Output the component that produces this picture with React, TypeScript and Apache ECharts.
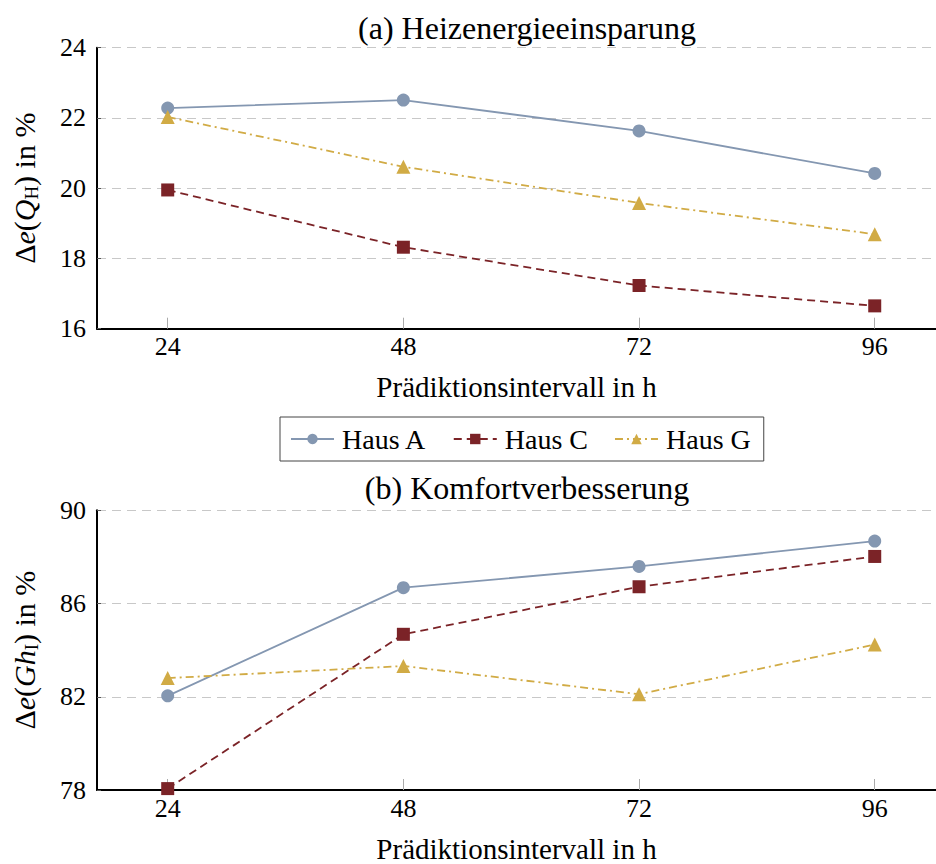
import React, { useEffect, useRef } from "react";
import * as echarts from "echarts";

const hours = [24, 48, 72, 96];
const seriesNames = ["Haus A", "Haus C", "Haus G"];
const heatA = [22.28, 22.51, 21.63, 20.42];
const heatC = [19.95, 18.32, 17.23, 16.65];
const heatG = [22.03, 20.61, 19.58, 18.69];
const comfA = [82.04, 86.68, 87.59, 88.68];
const comfC = [78.06, 84.68, 86.72, 88.02];
const comfG = [82.8, 83.32, 82.11, 84.24];
const heatTicks = [16, 18, 20, 22, 24];
const comfTicks = [78, 82, 86, 90];

const colors = ["#8497b1", "#7b2327", "#d1ab45"];
const symbols = ["circle", "rect", "triangle"];
const dashes: any[] = ["solid", [8, 5], [8, 4, 2, 4]];
const FONT = "serif";

export default function App() {
  const ref = useRef<HTMLDivElement>(null);
  useEffect(() => {
    if (!ref.current) return;
    const chart = echarts.init(ref.current, null, { renderer: "svg" });
    const pair = (ys: number[]) => hours.map((h, i) => [h, ys[i]]);
    const groups = [
      [heatA, heatC, heatG],
      [comfA, comfC, comfG],
    ];
    const series: any[] = [];
    groups.forEach((g, gi) => {
      g.forEach((ys, si) => {
        series.push({
          type: "line",
          name: seriesNames[si],
          xAxisIndex: gi,
          yAxisIndex: gi,
          data: pair(ys),
          symbol: symbols[si],
          symbolSize: si === 2 ? 14 : 13,
          showSymbol: true,
          lineStyle: { color: colors[si], width: 1.8, type: dashes[si] },
          itemStyle: { color: colors[si] },
          z: 3,
        });
      });
    });
    const xAxisBase = (gi: number) => ({
      type: "value",
      gridIndex: gi,
      min: 16.8,
      max: 102.24,
      axisLine: { show: true, lineStyle: { color: "#000", width: 2 } },
      axisTick: {
        show: true,
        inside: true,
        length: 11,
        customValues: hours,
        lineStyle: { color: "#aaa", width: 1 },
      },
      axisLabel: {
        customValues: hours,
        color: "#000",
        fontFamily: FONT,
        fontSize: 26,
        margin: 5,
      },
      splitLine: { show: false },
      name: "Prädiktionsintervall in h",
      nameLocation: "middle",
      nameGap: 44,
      nameTextStyle: { color: "#000", fontFamily: FONT, fontSize: 29 },
    });
    const yName = (sym: string, sub: string) =>
      "{r|Δ}{i|e}{r|(}{i|" + sym + "}{s|" + sub + "}{r|) in %}";
    const yRich = {
      r: { fontFamily: FONT, fontSize: 30, color: "#000", lineHeight: 34 },
      i: { fontFamily: FONT, fontSize: 30, fontStyle: "italic", color: "#000", lineHeight: 34 },
      s: { fontFamily: FONT, fontSize: 19, color: "#000", lineHeight: 20, verticalAlign: "bottom" },
    };
    const yAxisBase = (gi: number, min: number, max: number, interval: number, ticks: number[], nm: string) => ({
      type: "value",
      gridIndex: gi,
      min,
      max,
      interval,
      axisLine: { show: true, lineStyle: { color: "#000", width: 2 } },
      axisTick: {
        show: true,
        inside: true,
        length: 4,
        customValues: ticks,
        lineStyle: { color: "#555", width: 1 },
      },
      axisLabel: {
        customValues: ticks,
        color: "#000",
        fontFamily: FONT,
        fontSize: 26,
        margin: 11,
      },
      splitLine: { show: true, lineStyle: { color: "#c8c8c8", width: 1.2, type: [9, 6] } },
      name: nm,
      nameLocation: "middle",
      nameRotate: 90,
      nameGap: 56,
      nameTextStyle: { fontFamily: FONT, fontSize: 30, color: "#000", rich: yRich },
    });
    chart.setOption({
      animation: false,
      backgroundColor: "#fff",
      textStyle: { fontFamily: FONT },
      title: [
        {
          text: "(a) Heizenergieeinsparung",
          left: 522,
          top: 7,
          textAlign: "center",
          textStyle: { fontFamily: FONT, fontSize: 32, fontWeight: "normal", color: "#000" },
        },
        {
          text: "(b) Komfortverbesserung",
          left: 522,
          top: 467,
          textAlign: "center",
          textStyle: { fontFamily: FONT, fontSize: 32, fontWeight: "normal", color: "#000" },
        },
      ],
      legend: {
        data: seriesNames,
        left: 280,
        top: 417,
        orient: "horizontal",
        borderColor: "#444",
        borderWidth: 1,
        padding: [8, 13, 8, 10],
        itemWidth: 43,
        itemHeight: 13,
        itemGap: 26,
        textStyle: { fontFamily: FONT, fontSize: 28, color: "#000", padding: [0, 0, 0, 3] },
      },
      grid: [
        { left: 97, right: 0, top: 47.7, height: 281 },
        { left: 97, right: 0, top: 510.3, height: 281 },
      ],
      xAxis: [xAxisBase(0), xAxisBase(1)],
      yAxis: [
        yAxisBase(0, 16, 24, 2, heatTicks, yName("Q", "H")),
        yAxisBase(1, 78, 90, 4, comfTicks, yName("Gh", "I")),
      ],
      series,
    });
    return () => chart.dispose();
  }, []);
  return (
    <div
      ref={ref}
      style={{ position: "fixed", left: 0, top: 0, width: 936, height: 864 }}
    />
  );
}
